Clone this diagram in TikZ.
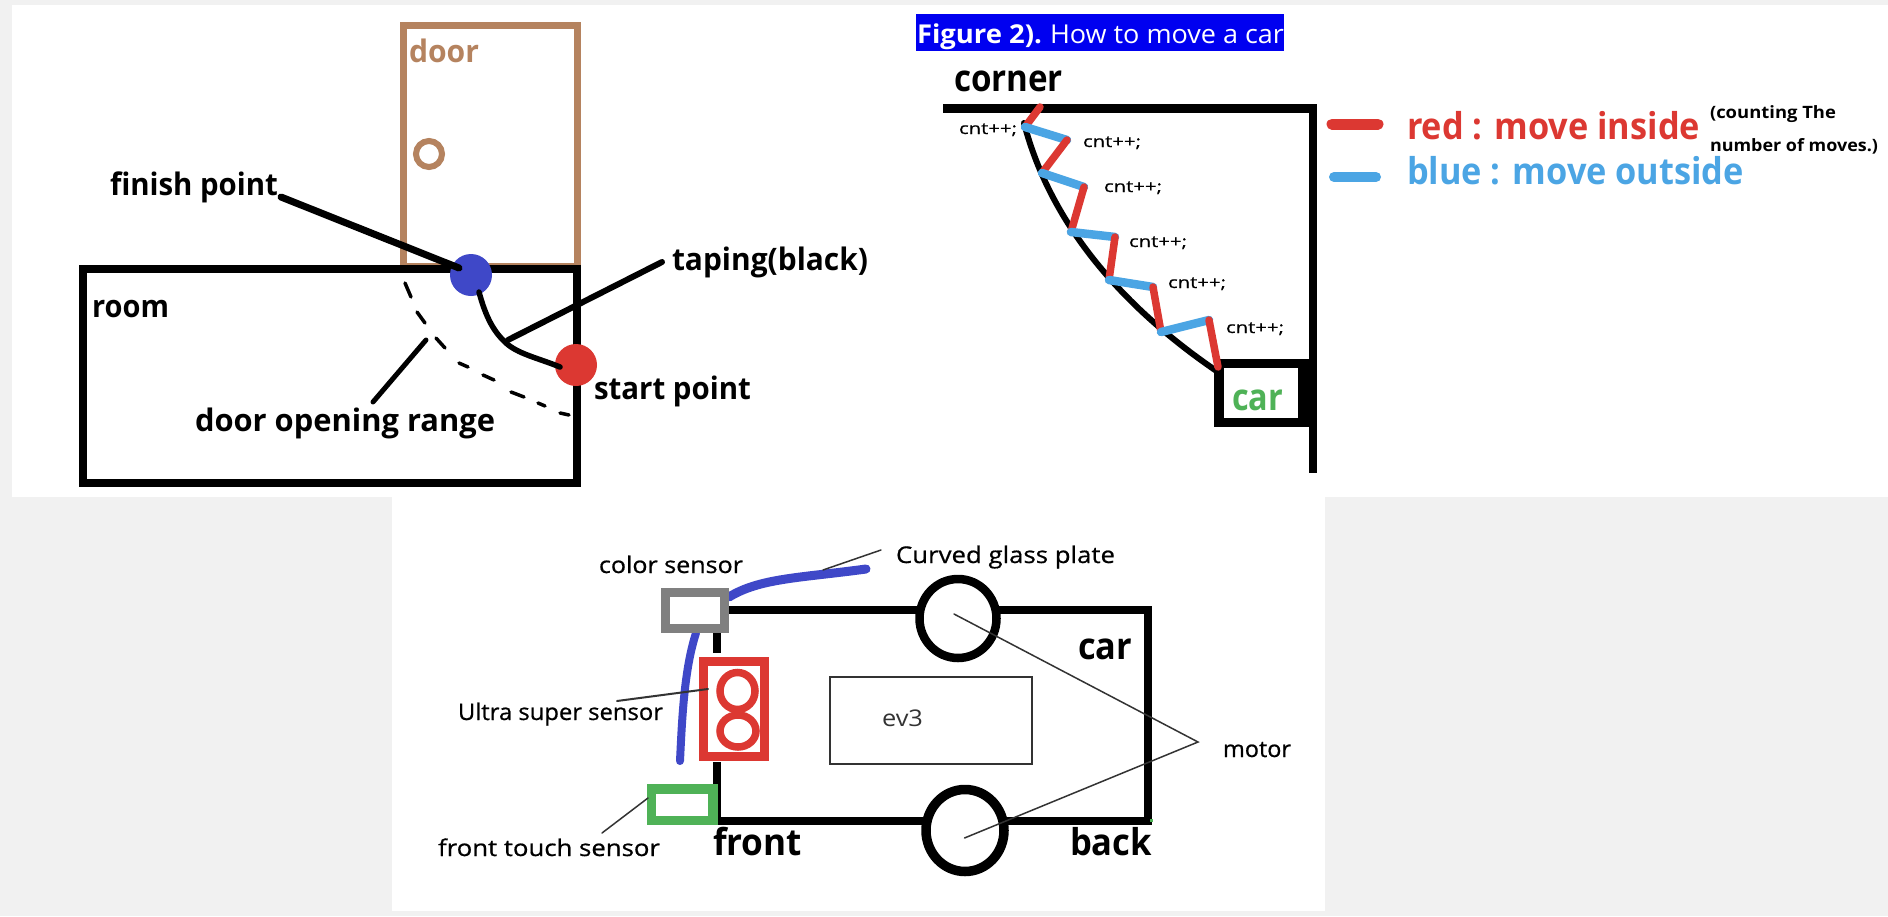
\documentclass[tikz,border=0pt]{standalone}
\usepackage{graphicx}
\usepackage{fontspec}
\setmainfont{Open Sans}[BoldFont={Open Sans Bold}]
\newfontfamily\medfont[FakeBold=0.6]{Open Sans}
\newfontfamily\heavyfont{Open Sans Bold}
\definecolor{pagegray}{HTML}{F1F1F1}
\definecolor{doorbrown}{HTML}{B5835F}
\definecolor{dotblue}{HTML}{3F48C8}
\definecolor{dotred}{HTML}{DC3832}
\definecolor{skyblue}{HTML}{4BA5E4}
\definecolor{sensorgreen}{HTML}{4FB257}
\definecolor{sensorgray}{HTML}{808080}
\definecolor{titleblue}{HTML}{0000F0}
\definecolor{thinink}{HTML}{333333}
\newcommand{\fw}[2]{\resizebox{#1pt}{\height}{#2}}
\tikzset{
  x=1pt,y=-1pt,
  txt/.style={inner sep=0pt,outer sep=0pt,anchor=base west,text=black},
  big/.style={txt,font=\heavyfont\fontsize{31}{31}\selectfont},
  huge/.style={txt,font=\heavyfont\fontsize{37}{37}\selectfont},
  mid/.style={txt,font=\medfont\fontsize{23}{23}\selectfont},
  tiny/.style={txt,font=\medfont\fontsize{16}{16}\selectfont},
  wall/.style={draw=black,line width=#1,line cap=butt,line join=miter},
  lead/.style={draw=black,line width=#1,line cap=round},
  thinlead/.style={draw=thinink,line width=#1,line cap=round},
  redseg/.style={draw=dotred,line width=7.5pt,line cap=round},
  blueseg/.style={draw=skyblue,line width=8.5pt,line cap=round},
  dashpiece/.style={draw=black,line width=3.5pt,line cap=round},
}
\begin{document}
\begin{tikzpicture}
\useasboundingbox (0,0) rectangle (1888,916);
\fill[pagegray] (0,0) rectangle (1888,916);
\fill[white] (12,5) rectangle (1888,497);
\fill[white] (392,497) rectangle (1325,911);

%% ---- left: door and room
\draw[draw=doorbrown,line width=7pt] (403.5,25) rectangle (577.5,266);
\draw[draw=doorbrown,line width=6pt] (429,154) circle[radius=13];
\node[big,text=doorbrown] (doorlbl) at (409,62) {\fw{70}{door}};
\draw[wall=8pt] (83,269) rectangle (577,483);
\node[big] (roomlbl) at (92,317) {\fw{77}{room}};
\node[big] (finishlbl) at (110,195) {\fw{168}{finish point}};
\node[big] (tapinglbl) at (672,270) {\fw{196}{taping(black)}};
\node[big] (startlbl) at (594,399) {\fw{157}{start point}};
\node[big] (rangelbl) at (195,431) {\fw{300}{door opening range}};
\foreach \ax/\ay/\bx/\by in {405/283/411/297, 417/312/425/323, 436/338/445/348, 459/363/468/367, 483/375/494/380, 511/392/524/397, 538/403/545/406, 560/413/569/415}
  \draw[dashpiece] (\ax,\ay) -- (\bx,\by);
\node[circle,fill=dotblue,minimum size=42pt,inner sep=0pt] (finishdot) at (471,275) {};
\node[circle,fill=dotred,minimum size=42pt,inner sep=0pt] (startdot) at (576,365) {};
\coordinate (finishtail) at (281,197);
\coordinate (finishhead) at (459,268);
\draw[lead=7pt] (finishtail) -- (finishhead);
\coordinate (tapetop) at (479,292);
\coordinate (tapebend) at (506,343);
\coordinate (tapeend) at (560,367);
\draw[lead=5.5pt] (tapetop) .. controls (486,318) and (494,332) .. (tapebend) .. controls (518,354) and (538,358) .. (tapeend);
\coordinate (tapingtail) at (662,262);
\coordinate (tapinghead) at (508,340);
\draw[lead=6pt] (tapingtail) -- (tapinghead);
\coordinate (rangetail) at (373,402);
\coordinate (rangehead) at (426,340);
\draw[lead=5pt] (rangetail) -- (rangehead);

%% ---- title
\node[fill=titleblue,minimum width=368pt,minimum height=37pt,inner sep=0pt,anchor=north west] (titlebar) at (916,14) {};
\node[txt,text=white,font=\heavyfont\fontsize{26}{26}\selectfont] (title1) at (917,43) {\fw{125}{Figure 2).}};
\node[txt,text=white,font=\fontsize{26}{26}\selectfont] (title2) at (1050,43) {\fw{234}{How to move a car}};

%% ---- right: corner
\node[huge] (cornerlbl) at (954,91) {\fw{109}{corner}};
\draw[wall=9pt] (943,108.5) -- (1312.5,108.5);
\draw[wall=8pt] (1312.5,104) -- (1312.5,473);
\draw[wall=9.5pt] (1219,363.5) rectangle (1303,422.5);
\fill[black] (1298,359) rectangle (1312,427);
\draw[lead=6pt] (1024,123) .. controls (1048,215) and (1112,300) .. (1218,372);
\coordinate (z0) at (1040,107);
\coordinate (z1) at (1025,127);
\coordinate (z2) at (1067,140);
\coordinate (z3) at (1042,173);
\coordinate (z4) at (1084,187);
\coordinate (z5) at (1071,232);
\coordinate (z6) at (1115,237);
\coordinate (z7) at (1109,280);
\coordinate (z8) at (1153,287);
\coordinate (z9) at (1161,332);
\coordinate (z10) at (1209,320);
\coordinate (z11) at (1218,367);
\draw[redseg] (z0) -- (z1);
\draw[blueseg] (z1) -- (z2);
\draw[redseg] (z2) -- (z3);
\draw[blueseg] (z3) -- (z4);
\draw[redseg] (z4) -- (z5);
\draw[blueseg] (z5) -- (z6);
\draw[redseg] (z6) -- (z7);
\draw[blueseg] (z7) -- (z8);
\draw[redseg] (z8) -- (z9);
\draw[blueseg] (z9) -- (z10);
\draw[redseg] (z10) -- (z11);
\node[tiny] (cnt1) at (959,134) {\fw{58}{cnt++;}};
\node[tiny] (cnt2) at (1083,147) {\fw{58}{cnt++;}};
\node[tiny] (cnt3) at (1104,192) {\fw{58}{cnt++;}};
\node[tiny] (cnt4) at (1129,247) {\fw{58}{cnt++;}};
\node[tiny] (cnt5) at (1168,288) {\fw{58}{cnt++;}};
\node[tiny] (cnt6) at (1226,333) {\fw{58}{cnt++;}};
\node[huge,text=sensorgreen] (carlbl) at (1232,410) {\fw{51}{car}};
\draw[draw=dotred,line width=11pt,line cap=round] (1332,124) -- (1378,124);
\draw[draw=skyblue,line width=10pt,line cap=round] (1334,177) -- (1376,177);
\node[huge,text=dotred] (redlbl) at (1407,139) {\fw{293}{red : move inside}};
\node[huge,text=skyblue] (bluelbl) at (1407,184) {\fw{337}{blue : move outside}};
\node[tiny,font=\heavyfont\fontsize{17}{17}\selectfont] (note1) at (1710,118) {\fw{126}{(counting The}};
\node[tiny,font=\heavyfont\fontsize{17}{17}\selectfont] (note2) at (1710,151) {\fw{168}{number of moves.)}};

%% ---- bottom: car
\draw[wall=8pt] (717,633) -- (717,653);
\draw[wall=8pt] (717,762) -- (717,825);
\draw[wall=8pt] (717,821) -- (1152,821);
\draw[wall=8pt] (726,610) -- (1152,610);
\draw[wall=8.5pt] (1148,606) -- (1148,825);
\fill[sensorgreen] (1150,819) rectangle (1153,822);
\draw[draw=black,line width=8.5pt,fill=white] (958,618.5) ellipse[x radius=38.5,y radius=39.5];
\draw[draw=black,line width=9.5pt,fill=white] (965,830.5) ellipse[x radius=39,y radius=41];
\node[draw=thinink,line width=2pt,minimum width=202pt,minimum height=87pt,inner sep=0pt,anchor=north west] (ev3box) at (829,676) {};
\node[mid,text=thinink,font=\fontsize{23}{23}\selectfont] (ev3lbl) at (882,726) {\fw{41}{ev3}};
\draw[draw=dotblue,line width=8pt,line cap=round] (680,761) .. controls (682,720) and (684,670) .. (696,633);
\draw[draw=dotblue,line width=9pt,line cap=round] (729,597) .. controls (760,578) and (800,578) .. (866,569);
\draw[draw=sensorgray,line width=9pt,fill=white] (665,592.5) rectangle (724,628);
\draw[draw=dotred,line width=9pt,fill=white] (703,661) rectangle (764,756.5);
\draw[draw=dotred,line width=7.5pt] (737.5,691) ellipse[x radius=17.5,y radius=18.5];
\draw[draw=dotred,line width=7.5pt] (738,731) ellipse[x radius=18,y radius=16];
\draw[draw=sensorgreen,line width=9.5pt,fill=white] (651.5,789) rectangle (713,820.5);
\node[mid] (colorlbl) at (599,573) {\fw{144}{color sensor}};
\node[mid] (glasslbl) at (896,563) {\fw{219}{Curved glass plate}};
\node[mid] (ultralbl) at (458,720) {\fw{205}{Ultra super sensor}};
\node[mid] (touchlbl) at (438,856) {\fw{222}{front touch sensor}};
\node[mid] (motorlbl) at (1223,757) {\fw{68}{motor}};
\node[huge] (frontlbl) at (713,855) {\fw{89}{front}};
\node[huge] (backlbl) at (1070,855) {\fw{82}{back}};
\node[huge] (car2lbl) at (1078,659) {\fw{54}{car}};
\coordinate (glasstail) at (881,550);
\coordinate (glasshead) at (823,570);
\draw[thinlead=1.5pt] (glasstail) -- (glasshead);
\coordinate (ultratail) at (617,701);
\coordinate (ultrahead) at (708,689);
\draw[thinlead=2pt] (ultratail) -- (ultrahead);
\coordinate (touchtail) at (602,833);
\coordinate (touchhead) at (648,798);
\draw[thinlead=1.5pt] (touchtail) -- (touchhead);
\coordinate (motorjoin) at (1198,742);
\coordinate (motortop) at (954,614);
\coordinate (motorbot) at (964.5,838);
\draw[thinlead=1.5pt] (motortop) -- (motorjoin) -- (motorbot);
\end{tikzpicture}
\end{document}
